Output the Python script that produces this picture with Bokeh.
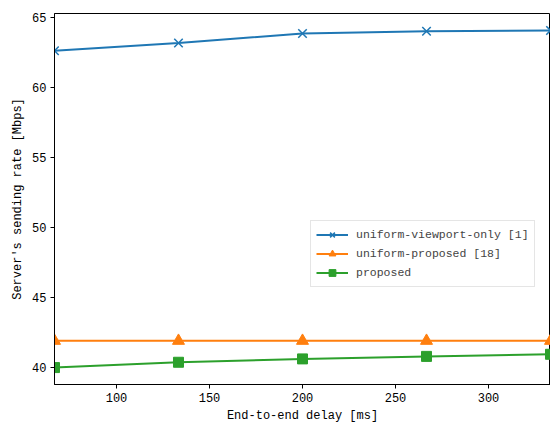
from bokeh.plotting import figure
from bokeh.models import Range1d, FixedTicker, Legend
from bokeh.embed import file_html
from bokeh.resources import INLINE

delay_ms = [66.67, 133.33, 200.0, 266.67, 333.33]
viewport_only = [62.65, 63.20, 63.88, 64.04, 64.10]
uniform_proposed = [41.91, 41.91, 41.91, 41.91, 41.91]
proposed = [40.00, 40.38, 40.62, 40.80, 40.95]

x_ticks = [100, 150, 200, 250, 300]
y_ticks = [40, 45, 50, 55, 60, 65]

FONT = "Liberation Mono"
C_BLUE, C_ORANGE, C_GREEN = "#1f77b4", "#ff7f0e", "#2ca02c"

p = figure(output_backend="svg", toolbar_location=None,
           frame_width=496, frame_height=371,
           min_border_left=54, min_border_right=0, min_border_top=13, min_border_bottom=36,
           x_range=Range1d(66.67, 333.33), y_range=Range1d(38.79, 65.31))

p.xgrid.visible = False
p.ygrid.visible = False
p.outline_line_color = "black"
p.outline_line_width = 1
p.background_fill_color = "white"
p.border_fill_color = "white"

for ax in (p.xaxis[0], p.yaxis[0]):
    ax.axis_line_color = "black"
    ax.major_tick_line_color = "black"
    ax.major_tick_out = 4
    ax.major_tick_in = 0
    ax.minor_tick_line_color = None
    ax.major_label_text_font = FONT
    ax.major_label_text_font_size = "12px"
    ax.major_label_text_color = "black"
    ax.axis_label_text_font = FONT
    ax.axis_label_text_font_size = "12px"
    ax.axis_label_text_font_style = "normal"
    ax.axis_label_text_color = "black"
    ax.major_label_standoff = 4
    ax.axis_label_standoff = 4

p.xaxis.ticker = FixedTicker(ticks=x_ticks)
p.yaxis.ticker = FixedTicker(ticks=y_ticks)
p.xaxis.axis_label = "End-to-end delay [ms]"
p.yaxis.axis_label = "Server's sending rate [Mbps]"

l1 = p.line(delay_ms, viewport_only, line_color=C_BLUE, line_width=2)
m1 = p.scatter(delay_ms, viewport_only, marker="x", size=12, line_color=C_BLUE, line_width=1.5)
l2 = p.line(delay_ms, uniform_proposed, line_color=C_ORANGE, line_width=2)
m2 = p.scatter(delay_ms, uniform_proposed, marker="triangle", size=12, fill_color=C_ORANGE, line_color=C_ORANGE)
l3 = p.line(delay_ms, proposed, line_color=C_GREEN, line_width=2)
m3 = p.scatter(delay_ms, proposed, marker="square", size=10, fill_color=C_GREEN, line_color=C_GREEN)

legend = Legend(items=[("uniform-viewport-only [1]", [l1, m1]),
                       ("uniform-proposed [18]", [l2, m2]),
                       ("proposed", [l3, m3])],
                location=(256, 97))
legend.label_text_font = FONT
legend.label_text_font_size = "11.5px"
legend.border_line_color = "#cccccc"
legend.background_fill_alpha = 0.8
legend.spacing = 2
legend.padding = 5
legend.margin = 0
legend.glyph_width = 32
legend.label_height = 17
legend.glyph_height = 17
legend.label_standoff = 8
p.add_layout(legend, "center")

open("out.html", "w").write(file_html(p, INLINE))
